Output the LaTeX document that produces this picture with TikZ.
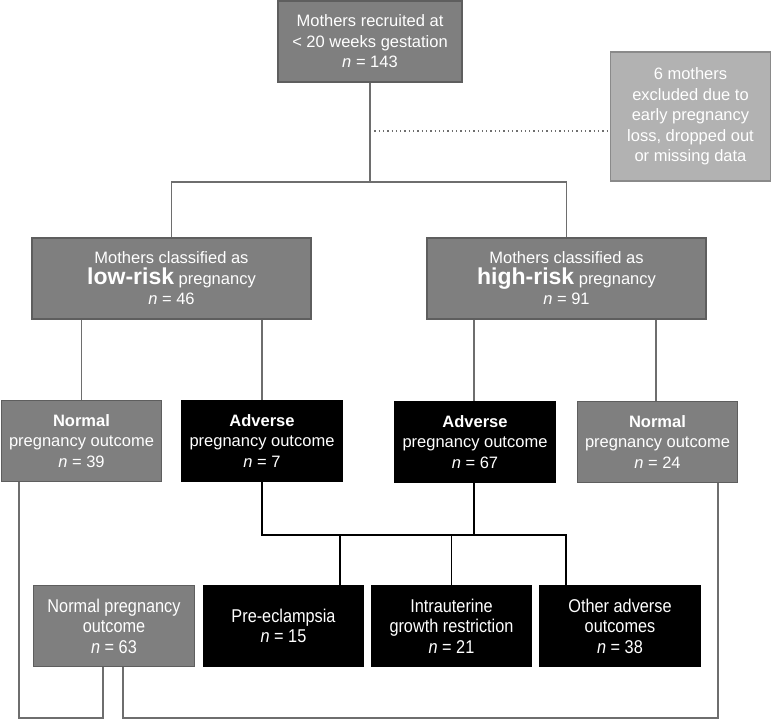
\documentclass[tikz,border=0pt]{standalone}
\usepackage{fontspec}
\setmainfont{Liberation Sans}
\newfontfamily\narrowfont[FakeStretch=0.88]{Liberation Sans}
\usetikzlibrary{calc}
\definecolor{boxgray}{HTML}{7F7F7F}
\definecolor{boxedge}{HTML}{5E5E5E}
\definecolor{linegray}{HTML}{6E6E6E}
\definecolor{lightbox}{HTML}{B2B2B2}
\definecolor{lightedge}{HTML}{8A8A8A}
\begin{document}
\begin{tikzpicture}[x=1pt,y=-1pt,
  base/.style={line width=1.2pt, text=white, align=center, inner sep=0pt,
    font=\fontsize{16.5}{20.5}\selectfont},
  graybox/.style={base, draw=boxedge, fill=boxgray},
  blackbox/.style={base, draw=black, fill=black},
  lightbx/.style={base, draw=lightedge, fill=lightbox},
  narrowtxt/.style={font=\narrowfont\fontsize{18.5}{20.5}\selectfont},
  glink/.style={draw=linegray, line width=1.6pt},
  blink/.style={draw=black, line width=1.6pt},
  dotlink/.style={draw=linegray, line width=1.3pt, dash pattern=on 1.3pt off 3pt},
]
\useasboundingbox (0,0) rectangle (772,719);

% nodes
\node[graybox, minimum width=184pt, minimum height=81pt] (top) at (370,41.5)
  {Mothers recruited at\\< 20 weeks gestation\\\textit{n} = 143};
\node[lightbx, minimum width=160pt, minimum height=129pt] (excl) at (690.5,116.5)
  {6 mothers\\excluded due to\\early pregnancy\\loss, dropped out\\or missing data};
\node[graybox, minimum width=279pt, minimum height=81pt] (low) at (171.5,278.5)
  {Mothers classified as\\{\fontsize{23}{26}\selectfont\bfseries low-risk} pregnancy\\\textit{n} = 46};
\node[graybox, minimum width=279pt, minimum height=81pt] (high) at (566.5,278.5)
  {Mothers classified as\\{\fontsize{23}{26}\selectfont\bfseries high-risk} pregnancy\\\textit{n} = 91};
\node[graybox, minimum width=160pt, minimum height=81pt] (n39) at (81.5,441)
  {\textbf{Normal}\\pregnancy outcome\\\textit{n} = 39};
\node[blackbox, minimum width=161pt, minimum height=81pt] (a7) at (262,441)
  {\textbf{Adverse}\\pregnancy outcome\\\textit{n} = 7};
\node[blackbox, minimum width=161pt, minimum height=81pt] (a67) at (475,442)
  {\textbf{Adverse}\\pregnancy outcome\\\textit{n} = 67};
\node[graybox, minimum width=160pt, minimum height=81pt] (n24) at (657.5,442)
  {\textbf{Normal}\\pregnancy outcome\\\textit{n} = 24};
\node[graybox, narrowtxt, minimum width=161pt, minimum height=81pt] (n63) at (114,626)
  {Normal pregnancy\\outcome\\\textit{n} = 63};
\node[blackbox, narrowtxt, minimum width=160pt, minimum height=81pt] (pre) at (283.5,626)
  {Pre-eclampsia\\\textit{n} = 15};
\node[blackbox, narrowtxt, minimum width=160pt, minimum height=81pt] (iugr) at (451.5,626)
  {Intrauterine\\growth restriction\\\textit{n} = 21};
\node[blackbox, narrowtxt, minimum width=161pt, minimum height=81pt] (oth) at (620,626)
  {Other adverse\\outcomes\\\textit{n} = 38};

% coordinates
\coordinate (split1) at (370,182);
\coordinate (dotstart) at (370,131);
\coordinate (lowL) at (81.5,0);
\coordinate (lowR) at (262,0);
\coordinate (highL) at (474,0);
\coordinate (highR) at (656,0);
\coordinate (adv) at (0,535);
\coordinate (preX) at (340,0);
\coordinate (othX) at (566,0);
\coordinate (b1) at (19,718);
\coordinate (b2) at (103,718);
\coordinate (b3) at (123,718);
\coordinate (b4) at (718,718);

% connectors (gray)
\draw[glink] (top.south) -- (split1);
\draw[glink] (low.north) |- (split1) -| (high.north);
\draw[dotlink] (dotstart) -- (dotstart -| excl.west);
\draw[glink] (lowL |- low.south) -- (lowL |- n39.north);
\draw[glink] (lowR |- low.south) -- (lowR |- a7.north);
\draw[glink] (highL |- high.south) -- (highL |- a67.north);
\draw[glink] (highR |- high.south) -- (highR |- n24.north);
\draw[glink] (b1 |- n39.south) -- (b1) -- (b2) -- (b2 |- n63.south);
\draw[glink] (b3 |- n63.south) -- (b3) -- (b4) -- (b4 |- n24.south);

% connectors (black)
\draw[blink] (a7.south) -- (a7.south |- adv) -- (othX |- adv) -- (othX |- oth.north);
\draw[blink] (highL |- a67.south) -- (highL |- adv);
\draw[blink] (preX |- adv) -- (preX |- pre.north);
\draw[blink] (iugr.north |- adv) -- (iugr.north);
\end{tikzpicture}
\end{document}
